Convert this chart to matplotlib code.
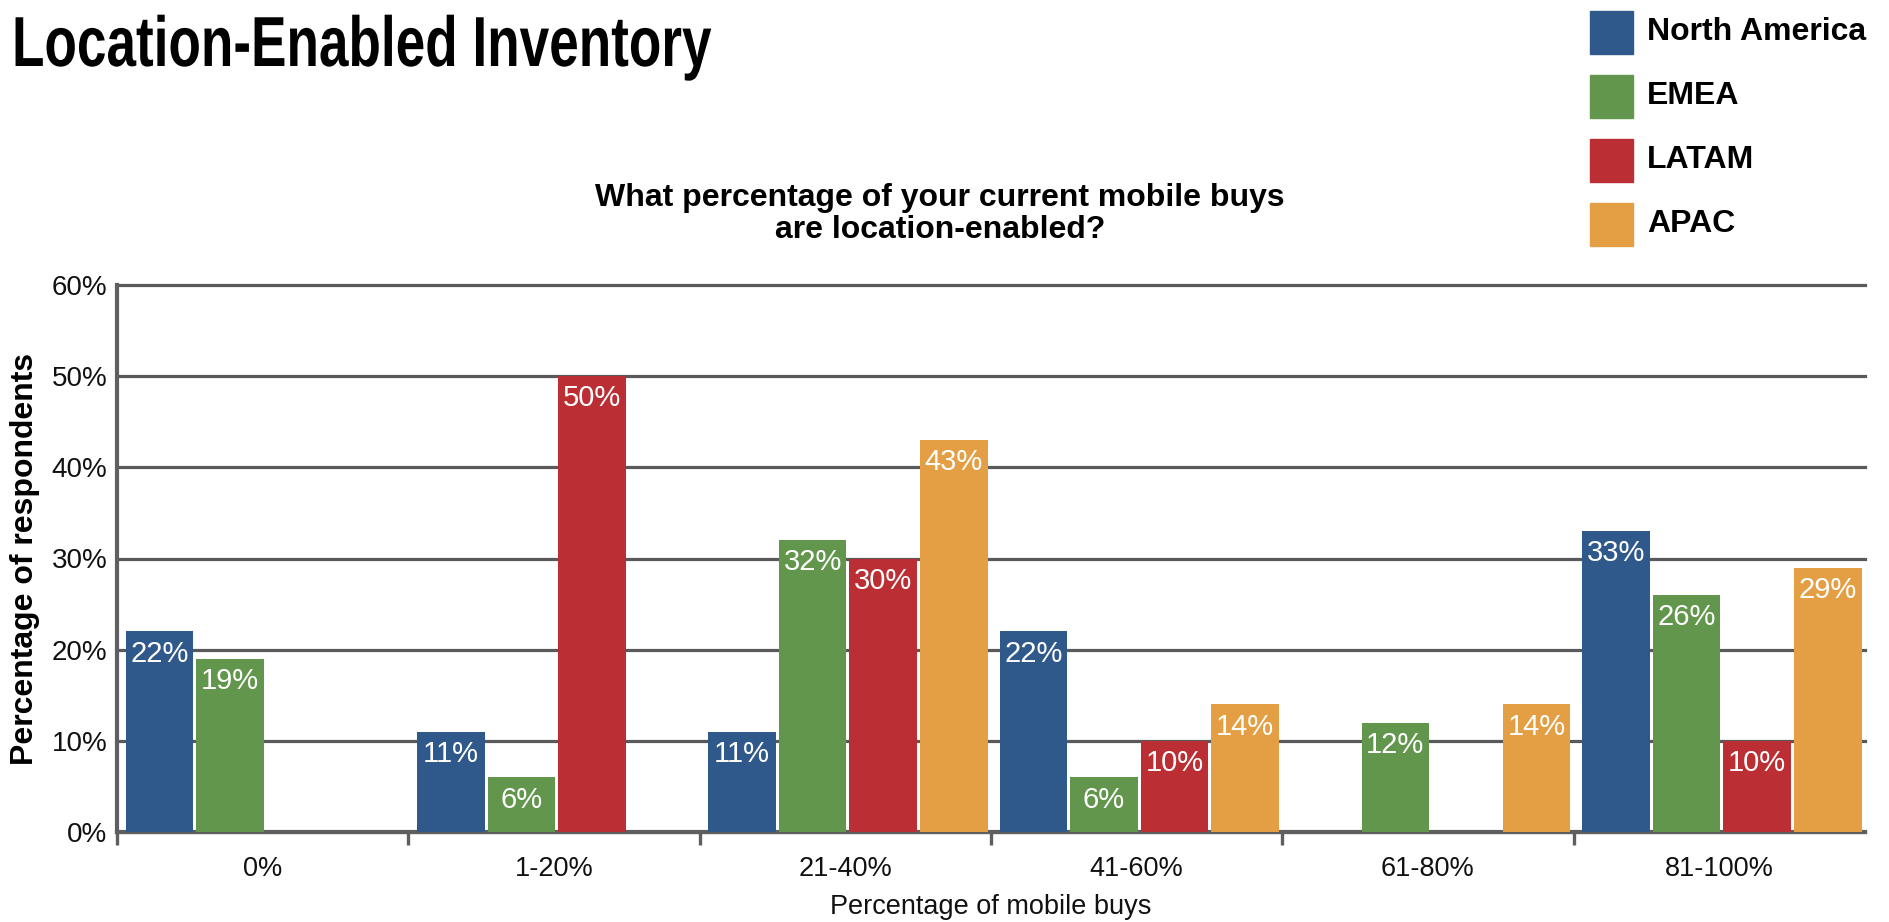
import numpy as np
import matplotlib.pyplot as plt
from matplotlib.patches import Rectangle
from matplotlib.patheffects import AbstractPathEffect
from matplotlib.transforms import Affine2D

plt.rcParams['font.family'] = ['Liberation Sans', 'DejaVu Sans']

categories = ['0%', '1-20%', '21-40%', '41-60%', '61-80%', '81-100%']
regions = ['North America', 'EMEA', 'LATAM', 'APAC']
north_america = [22, 11, 11, 22, 0, 33]
emea = [19, 6, 32, 6, 12, 26]
latam = [0, 50, 30, 10, 0, 10]
apac = [0, 0, 43, 14, 14, 29]
colors = ['#30598b', '#62964c', '#ba2e34', '#e49f45']
yticks = [0, 10, 20, 30, 40, 50, 60]


class Squeeze(AbstractPathEffect):
    """Narrow the glyphs horizontally around a fixed x (display px)."""
    def __init__(self, sx, x0):
        super().__init__()
        self.sx = sx
        self.x0 = x0

    def draw_path(self, renderer, gc, tpath, affine, rgbFace=None):
        squeeze = Affine2D().translate(-self.x0, 0).scale(self.sx, 1).translate(self.x0, 0)
        renderer.draw_path(gc, tpath, affine + squeeze, rgbFace)


W, H = 1889, 922
fig = plt.figure(figsize=(W / 100, H / 100), dpi=100)
ax = fig.add_axes([117 / W, 1 - 832 / H, (1865 - 117) / W, (832 - 285) / H])

x = np.arange(len(categories))
step = 0.242
width = 0.232
first = -0.354
for k, (vals, col) in enumerate(zip([north_america, emea, latam, apac], colors)):
    vals = np.array(vals)
    pos = x + first + k * step
    keep = vals > 0
    bars = ax.bar(pos[keep], vals[keep], width=width, color=col, zorder=3)
    for b, v in zip(bars, vals[keep]):
        ax.annotate('{}%'.format(v), (b.get_x() + b.get_width() / 2, v),
                    xytext=(0, -16), textcoords='offset points',
                    ha='center', va='center', color='white', fontsize=21, zorder=4)

ax.set_xlim(-0.5, len(categories) - 0.5)
ax.set_ylim(0, 60)
ax.set_yticks(yticks)
ax.set_yticklabels(['{}%'.format(t) for t in yticks])
ax.set_xticks(x)
ax.set_xticklabels(categories)
ax.set_xticks(np.arange(len(categories)) - 0.5, minor=True)
ax.tick_params(axis='x', which='major', length=0, pad=17, labelsize=19.5, labelcolor='#111111')
ax.tick_params(axis='x', which='minor', length=9, width=2.4, color='#5f5f5f')
ax.tick_params(axis='y', length=0, pad=7, labelsize=20, labelcolor='#111111')

ax.set_axisbelow(True)
ax.yaxis.grid(True, color='#595959', linewidth=2.3)
for gl in ax.get_ygridlines():
    gl.set_clip_on(False)
for s in ['top', 'right']:
    ax.spines[s].set_visible(False)
for s in ['left', 'bottom']:
    ax.spines[s].set_color('#5f5f5f')
    ax.spines[s].set_linewidth(3)

ax.set_xlabel('Percentage of mobile buys', fontsize=19.5, color='#111111', va='center')
ax.xaxis.set_label_coords(0.5, -(907 - 832) / (832 - 285))
ax.set_ylabel('Percentage of respondents', fontsize=23, fontweight='bold', va='center')
ax.yaxis.set_label_coords((25 - 117) / (1865 - 117), 0.5)

# condensed heading
fig.text(12 / W, 1 - 66 / H, 'Location-Enabled Inventory',
         fontsize=51, fontweight='bold', va='baseline', ha='left',
         path_effects=[Squeeze(0.75, 12)])
fig.text(940 / W, 1 - 214 / H,
         'What percentage of your current mobile buys\nare location-enabled?',
         fontsize=23, fontweight='bold', ha='center', va='center',
         linespacing=1.05, multialignment='center')

# legend squares and labels along the top right
for i, (name, col) in enumerate(zip(regions, colors)):
    top = 11 + i * 64
    fig.add_artist(Rectangle((1590 / W, 1 - (top + 43) / H), 43 / W, 43 / H,
                             transform=fig.transFigure, color=col))
    fig.text(1647 / W, 1 - (top + 21.5) / H, name, fontsize=23,
             fontweight='bold', va='center', ha='left')

fig.savefig('out.png', dpi=100)
